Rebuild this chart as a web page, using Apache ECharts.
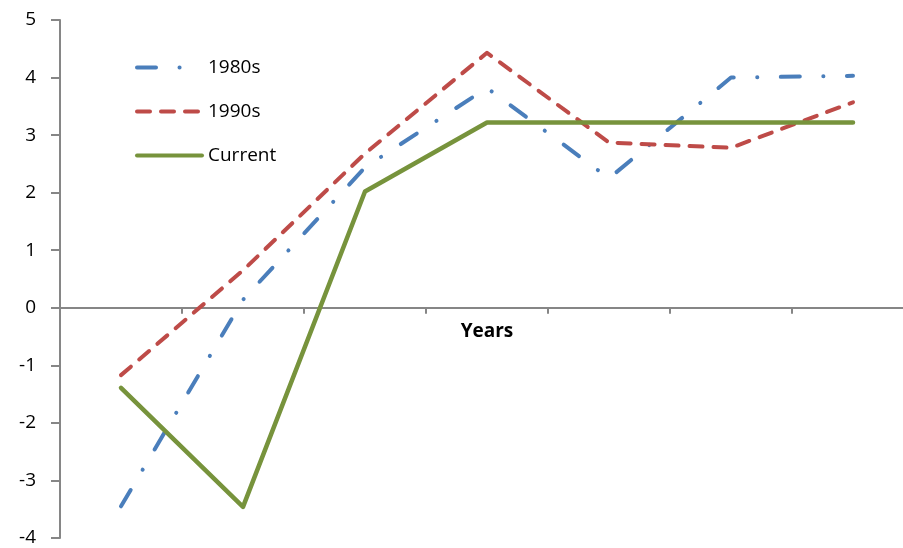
<!DOCTYPE html>
<html>
<head>
<meta charset="utf-8">
<script src="https://cdn.jsdelivr.net/npm/echarts@6/dist/echarts.min.js"></script>
<style>
  html, body { margin: 0; padding: 0; background: #fff; }
  #chart { width: 903px; height: 548px; }
</style>
</head>
<body>
<div id="chart"></div>
<script>
// Seven yearly periods along the x axis (labels are not shown)
const periods = ['P1', 'P2', 'P3', 'P4', 'P5', 'P6', 'P7'];
const yTicks = { min: -4, max: 5, step: 1 };

const s1980s = [-3.45, 0.14, 2.44, 3.82, 2.25, 4.00, 4.03];
const s1990s = [-1.17, 0.65, 2.68, 4.43, 2.87, 2.78, 3.57];
const sCurrent = [-1.39, -3.46, 2.02, 3.22, 3.22, 3.22, 3.22];

const FONT = 'Open Sans';
const AXIS_GREY = '#868686';

const chart = echarts.init(document.getElementById('chart'), null, { renderer: 'canvas' });

chart.setOption({
  animation: false,
  backgroundColor: '#ffffff',
  grid: { left: 60, right: -11, top: 20, bottom: 10, containLabel: false, outerBoundsMode: 'none' },
  legend: {
    orient: 'vertical',
    left: 130,
    top: 53,
    itemWidth: 65,
    itemHeight: 14,
    itemGap: 25,
    itemStyle: { opacity: 0 },
    lineStyle: { width: 4, cap: 'round' },
    textStyle: { fontFamily: FONT, fontSize: 19, color: '#000', padding: [0, 0, 0, 1] },
    data: ['1980s', '1990s', 'Current']
  },
  xAxis: {
    type: 'category',
    data: periods,
    boundaryGap: true,
    name: 'Years',
    nameLocation: 'middle',
    // the name is placed from the grid's bottom edge; pull it up under the zero line
    nameGap: -216,
    nameTextStyle: { fontFamily: FONT, fontSize: 19, fontWeight: 'bold', color: '#000' },
    axisLine: { onZero: true, lineStyle: { color: AXIS_GREY, width: 2 } },
    axisTick: { show: true, inside: false, length: 6, lineStyle: { color: AXIS_GREY, width: 2 } },
    axisLabel: { show: false },
    splitLine: { show: false }
  },
  yAxis: {
    type: 'value',
    min: yTicks.min,
    max: yTicks.max,
    interval: yTicks.step,
    axisLine: { show: true, lineStyle: { color: AXIS_GREY, width: 2 } },
    axisTick: { show: true, length: 9, lineStyle: { color: AXIS_GREY, width: 2 } },
    axisLabel: { fontFamily: FONT, fontSize: 19, color: '#000', margin: 24 },
    splitLine: { show: false }
  },
  series: [
    {
      name: '1980s',
      type: 'line',
      data: s1980s,
      showSymbol: false,
      symbol: 'none',
      color: '#4A7EBB',
      lineStyle: { width: 4, color: '#4A7EBB', type: [19, 23.5, 0.1, 23.5], cap: 'round', join: 'round' }
    },
    {
      name: '1990s',
      type: 'line',
      data: s1990s,
      showSymbol: false,
      symbol: 'none',
      color: '#BE4B48',
      lineStyle: { width: 4, color: '#BE4B48', type: [13, 11], cap: 'round', join: 'round' }
    },
    {
      name: 'Current',
      type: 'line',
      data: sCurrent,
      showSymbol: false,
      symbol: 'none',
      color: '#77933C',
      lineStyle: { width: 4.5, color: '#77933C', type: 'solid', cap: 'round', join: 'round' }
    }
  ]
});
</script>
</body>
</html>
